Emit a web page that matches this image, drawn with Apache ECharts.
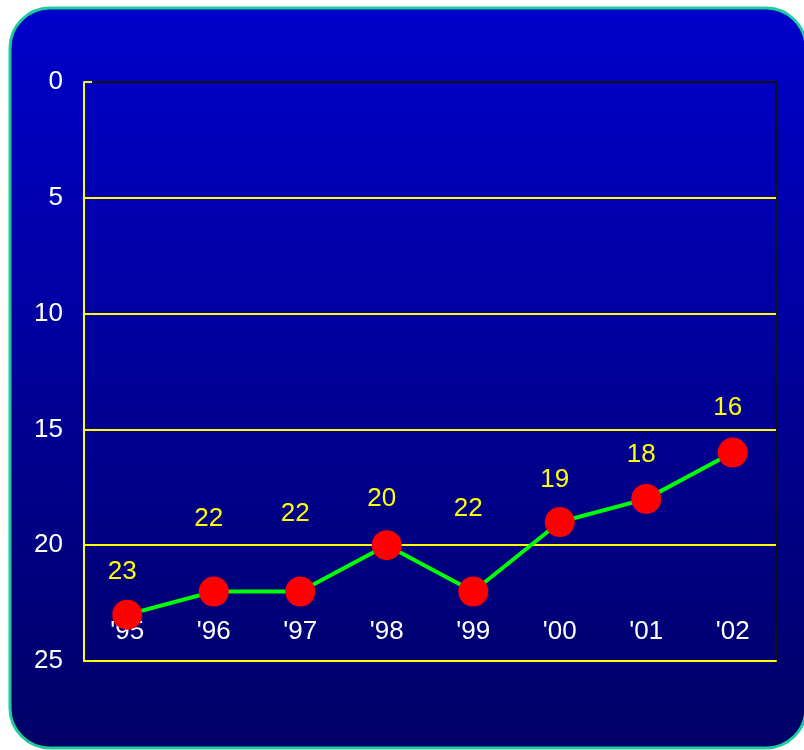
<!DOCTYPE html>
<html>
<head>
<meta charset="utf-8">
<script src="https://cdn.jsdelivr.net/npm/echarts@6/dist/echarts.min.js"></script>
<style>
  html, body { margin: 0; padding: 0; background: #ffffff; }
  #chart { width: 804px; height: 750px; }
</style>
</head>
<body>
<div id="chart"></div>
<script>
// years on the x axis
const years = ["'95", "'96", "'97", "'98", "'99", "'00", "'01", "'02"];
// ranking per year (axis is reversed, 0 on top)
const ranks = [23, 22, 22, 20, 22, 19, 18, 16];
// y axis range
const yMin = 0;
const yMax = 25;
const yStep = 5;

// how far each value label sits above its marker (px)
const labelLift = [15, 45, 50, 18, 55, 14, 16, 17];

const FONT = "'Liberation Sans Narrow', 'Liberation Sans', Arial, sans-serif";

const chart = echarts.init(document.getElementById("chart"));

const option = {
  animation: false,
  graphic: [
    {
      type: "rect",
      z: -10,
      shape: { x: 10, y: 8, width: 796, height: 740, r: 40 },
      style: {
        fill: new echarts.graphic.LinearGradient(0, 0, 0, 1, [
          { offset: 0, color: "#0000cc" },
          { offset: 1, color: "#000066" },
        ]),
        stroke: "#1ccc9c",
        lineWidth: 3,
      },
    },
  ],
  grid: {
    left: 84,
    right: 28,
    top: 82,
    bottom: 89,
    show: true,
    borderColor: "#111111",
    borderWidth: 2,
    backgroundColor: "transparent",
  },
  xAxis: {
    type: "category",
    data: years,
    boundaryGap: true,
    axisLine: { onZero: false, lineStyle: { color: "#ffff00", width: 2 } },
    axisTick: { inside: true, length: 8, lineStyle: { color: "#ffff00", width: 2 } },
    axisLabel: {
      inside: true,
      margin: 16,
      color: "#ffffff",
      fontSize: 26,
      fontFamily: FONT,
    },
    splitLine: { show: false },
  },
  yAxis: {
    type: "value",
    inverse: true,
    min: yMin,
    max: yMax,
    interval: yStep,
    axisLine: { show: true, onZero: false, lineStyle: { color: "#ffff00", width: 2 } },
    axisTick: { show: true, inside: true, length: 8, lineStyle: { color: "#ffff00", width: 2 } },
    axisLabel: {
      margin: 21,
      color: "#ffffff",
      fontSize: 26,
      fontFamily: FONT,
    },
    splitLine: {
      show: true,
      showMinLine: false,
      showMaxLine: false,
      lineStyle: { color: "#ffff00", width: 2 },
    },
  },
  series: [
    {
      type: "line",
      data: ranks.map((v, i) => ({
        value: v,
        label: { distance: labelLift[i] },
      })),
      symbol: "circle",
      symbolSize: 30,
      itemStyle: { color: "#ff0000" },
      lineStyle: { color: "#00ff00", width: 4 },
      label: {
        show: true,
        position: "top",
        offset: [-5, 0],
        color: "#ffff00",
        fontSize: 26,
        fontFamily: FONT,
      },
      z: 5,
    },
  ],
};

chart.setOption(option);
</script>
</body>
</html>
